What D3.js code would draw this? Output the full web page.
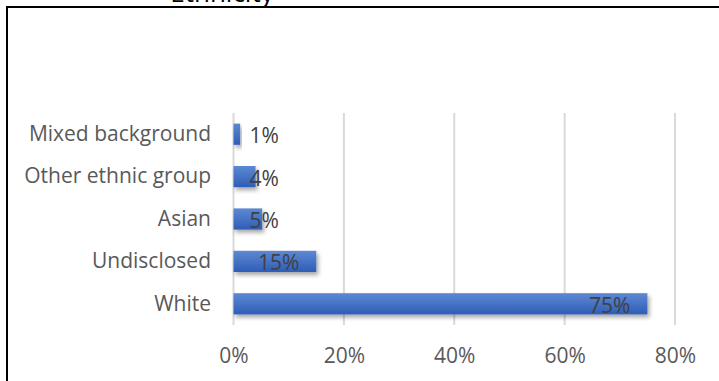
<!DOCTYPE html>
<html>
<head>
<meta charset="utf-8">
<script src="https://cdn.jsdelivr.net/npm/d3@7"></script>
<style>
  html, body { margin: 0; padding: 0; background: #fff; }
  svg { display: block; }
</style>
</head>
<body>
<svg id="chart" width="719" height="381"></svg>
<script>
const title = "Ethnicity";
const categories = ["Mixed background", "Other ethnic group", "Asian", "Undisclosed", "White"];
const values = [0.012, 0.04, 0.052, 0.15, 0.75];
const valueLabels = ["1%", "4%", "5%", "15%", "75%"];
const tickValues = [0, 0.2, 0.4, 0.6, 0.8];
const tickLabels = ["0%", "20%", "40%", "60%", "80%"];

const FONT = "'Open Sans', 'Liberation Sans', sans-serif";
const FS = 21;
const svg = d3.select("#chart");

const defs = svg.append("defs");
const grad = defs.append("linearGradient").attr("id", "barGrad")
  .attr("x1", 0).attr("y1", 0).attr("x2", 0).attr("y2", 1);
grad.append("stop").attr("offset", "0%").attr("stop-color", "#5d88d3");
grad.append("stop").attr("offset", "50%").attr("stop-color", "#4773c5");
grad.append("stop").attr("offset", "100%").attr("stop-color", "#2e5db6");
const filt = defs.append("filter").attr("id", "shadow")
  .attr("x", "-10%").attr("y", "-30%").attr("width", "130%").attr("height", "200%");
filt.append("feDropShadow").attr("dx", 2).attr("dy", 3).attr("stdDeviation", 2)
  .attr("flood-color", "#000").attr("flood-opacity", 0.35);

// frame
svg.append("rect").attr("x", 7).attr("y", 7).attr("width", 740).attr("height", 400)
  .attr("fill", "none").attr("stroke", "#000").attr("stroke-width", 2);

// title (cropped at the top, as in the reference)
svg.append("text").attr("x", 222).attr("y", 2).attr("text-anchor", "middle")
  .attr("font-family", FONT).attr("font-size", 26).attr("fill", "#000").text(title);

const x = d3.scaleLinear().domain([0, 0.8]).range([233.5, 675]);
const y = d3.scaleBand().domain(categories).range([113, 325]).paddingInner(0.5).paddingOuter(0.25);

// gridlines
svg.append("g").selectAll("line").data(tickValues).join("line")
  .attr("x1", d => x(d)).attr("x2", d => x(d))
  .attr("y1", 113).attr("y2", 325)
  .attr("stroke", "#d9d9d9").attr("stroke-width", 2);

// x axis tick labels
const xAxis = d3.axisBottom(x).tickValues(tickValues)
  .tickFormat((d, i) => tickLabels[i]).tickSize(0).tickPadding(0);
const gx = svg.append("g").attr("transform", "translate(0,348)").call(xAxis);
gx.select(".domain").remove();
gx.selectAll("text").attr("font-family", FONT).attr("font-size", FS)
  .attr("fill", "#595959");

// y axis category labels
const yAxis = d3.axisLeft(y).tickSize(0).tickPadding(0);
const gy = svg.append("g").attr("transform", "translate(211,0)").call(yAxis);
gy.select(".domain").remove();
gy.selectAll("text").attr("font-family", FONT).attr("font-size", FS)
  .attr("fill", "#595959");

// bars
svg.append("g").selectAll("rect").data(categories).join("rect")
  .attr("x", x(0))
  .attr("y", d => y(d))
  .attr("width", (d, i) => x(values[i]) - x(0))
  .attr("height", y.bandwidth())
  .attr("fill", "url(#barGrad)")
  .attr("filter", "url(#shadow)");

// value labels (inside end, clamped near axis)
const lbl = svg.append("g").selectAll("text").data(categories).join("text")
  .attr("font-family", FONT).attr("font-size", FS).attr("fill", "#404040")
  .attr("dominant-baseline", "central")
  .attr("y", d => y(d) + y.bandwidth() / 2 + 1)
  .text((d, i) => valueLabels[i]);
lbl.each(function(d, i) {
  const w = this.getComputedTextLength();
  const left = Math.max(x(values[i]) - 17 - w, x(0) + 16);
  d3.select(this).attr("x", left);
});
</script>
</body>
</html>
